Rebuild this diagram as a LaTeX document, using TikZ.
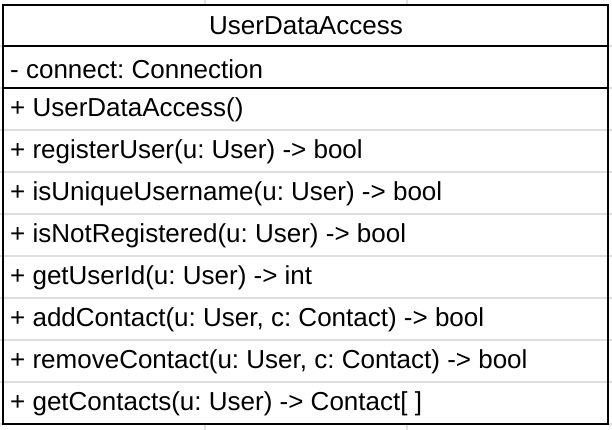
\documentclass[tikz,border=0pt]{standalone}
\usepackage{fontspec}
\setmainfont{Liberation Sans}
\usetikzlibrary{positioning}
\frenchspacing

\tikzset{
    gridline/.style={draw=black!12, line width=1.2pt},
    rowline/.style={draw=black!13, line width=1.5pt},
    boxline/.style={draw=black, line width=2pt},
    classname/.style={font=\fontsize{26}{29}\selectfont, inner sep=0pt},
    member/.style={anchor=west, font=\fontsize{26}{29}\selectfont, inner sep=0pt}
}

\begin{document}
\begin{tikzpicture}[x=1pt, y=-1pt]
    \useasboundingbox (0,0) rectangle (612,430);
    % sheet grid behind the class
    \foreach \gy in {46,88,130,172,214,256,298,340,382,424}
        \draw[gridline] (0,\gy) -- (612,\gy);
    \foreach \gx in {205,407}
        \draw[gridline] (\gx,0) -- (\gx,430);
    \fill[white] (3,5) rectangle (608,424);
    % method rows
    \foreach \gy in {130,172,214,256,298,340,382}
        \draw[rowline] (3,\gy) -- (608,\gy);
    % compartments
    \draw[boxline] (3,46) -- (608,46);
    \draw[boxline] (3,88) -- (608,88);
    \draw[boxline] (3,5) rectangle (608,424);

    \node[classname] (title) at (306,26) {UserDataAccess};
    \node[member] (attr) at (10,69) {- connect: Connection};
    \foreach \txt [count=\i] in {
        {+ UserDataAccess()},
        {+ registerUser(u: User) -> bool},
        {+ isUniqueUsername(u: User) -> bool},
        {+ isNotRegistered(u: User) -> bool},
        {+ getUserId(u: User) -> int},
        {+ addContact(u: User, c: Contact) -> bool},
        {+ removeContact(u: User, c: Contact) -> bool},
        {+ getContacts(u: User) -> Contact[ ]}}
        \node[member] (m\i) at (10,68+42*\i) {\txt};
\end{tikzpicture}
\end{document}
